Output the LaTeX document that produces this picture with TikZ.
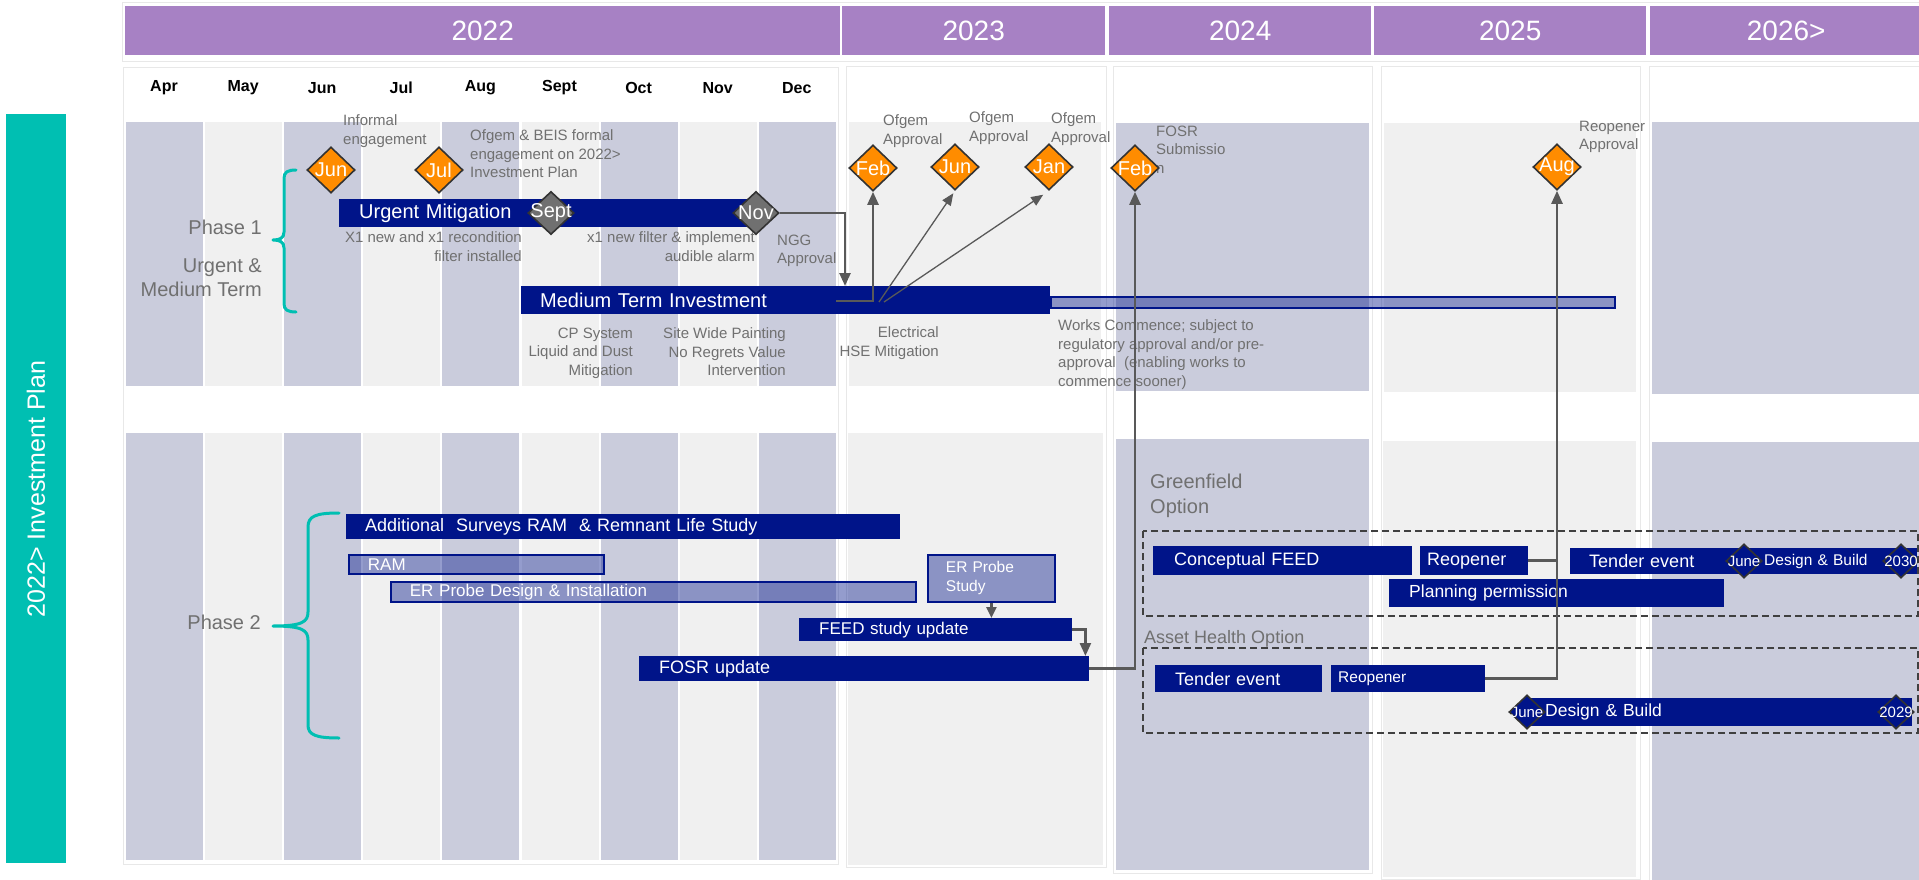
\documentclass[tikz,border=0pt]{standalone}
\usepackage{fontspec}
\setmainfont{Liberation Sans}
\usetikzlibrary{shapes.geometric,arrows.meta,calc}

\definecolor{yearpurple}{RGB}{167,129,196}
\definecolor{planteal}{RGB}{0,191,178}
\definecolor{stripedark}{RGB}{202,204,220}
\definecolor{stripelight}{RGB}{240,240,240}
\definecolor{barnavy}{RGB}{0,20,137}
\definecolor{msorange}{RGB}{255,140,0}
\definecolor{msgray}{RGB}{112,112,112}
\definecolor{conngray}{RGB}{89,89,89}
\definecolor{txtgray}{RGB}{112,112,112}

\tikzset{
  yearbox/.style={fill=yearpurple, text=white, anchor=north west, inner sep=0pt, font=\fontsize{28}{32}\selectfont},
  panel/.style={fill=white, draw=black!9, line width=1pt},
  monthlbl/.style={font=\fontsize{16}{18}\selectfont\bfseries},
  note/.style={text=txtgray, inner sep=0pt, font=\fontsize{15}{18.5}\selectfont},
  phaselbl/.style={text=txtgray, inner sep=0pt, font=\fontsize{20}{24}\selectfont},
  bar/.style={fill=barnavy, text=white, inner sep=0pt, anchor=north west, align=left, font=\fontsize{18}{20}\selectfont},
  lightbar/.style={bar, fill opacity=0.42, text opacity=1, draw=barnavy, line width=1.8pt},
  milestone/.style={diamond, draw=black!80, line width=1.6pt, inner sep=0pt, minimum width=48, minimum height=46,
    fill=msorange, text=white, font=\fontsize{20}{20}\selectfont},
  gatestone/.style={milestone, fill=msgray, minimum width=46, minimum height=43},
  datestone/.style={milestone, fill=barnavy, minimum width=36, minimum height=34, font=\fontsize{15}{15}\selectfont},
  conn/.style={draw=conngray, line width=2.5pt, -{Triangle[length=13pt,width=11pt]}},
  thinconn/.style={conn, line width=1.3pt, -{Triangle[length=12pt,width=10pt]}},
  phasebrace/.style={draw=planteal, line width=3pt, line join=round, line cap=round},
  optionbox/.style={draw=black!75, line width=2pt, dash pattern=on 7pt off 4pt},
}

\begin{document}
\begin{tikzpicture}[x=1pt, y=-1pt]
        \useasboundingbox (0,0) rectangle (1919,880);

        % side title
        \fill[planteal] (6,114) rectangle (66,863);
        \node[rotate=90, text=white, font=\fontsize{25}{28}\selectfont] (plantitle) at (36,489) {2022> Investment Plan};

        % year header
        \draw[panel] (122,3) rectangle (1925,62);
        \node[yearbox, minimum width=715, minimum height=49] (y2022) at (125,6) {2022};
        \node[yearbox, minimum width=263, minimum height=49] (y2023) at (842,6) {2023};
        \node[yearbox, minimum width=262, minimum height=49] (y2024) at (1109,6) {2024};
        \node[yearbox, minimum width=272, minimum height=49] (y2025) at (1374,6) {2025};
        \node[yearbox, minimum width=272, minimum height=49] (y2026) at (1650,6) {2026>};

        % year panels
        \draw[panel] (123,68) rectangle (838,864);
        \draw[panel] (846,67) rectangle (1106,867);
        \draw[panel] (1113,67) rectangle (1372,873);
        \draw[panel] (1381,67) rectangle (1640,879);
        \draw[panel] (1649,67) rectangle (1925,885);

        % month stripes (phase 1 and phase 2)
        \foreach \i/\col in {0/stripedark,1/stripelight,2/stripedark,3/stripelight,4/stripedark,
                             5/stripelight,6/stripedark,7/stripelight,8/stripedark} {
            \fill[\col] ({126+79.1*\i},122) rectangle +(77,264);
            \fill[\col] ({126+79.1*\i},433) rectangle +(77,427);
        }
        \foreach \m [count=\i from 0] in {Apr,May,Jun,Jul,Aug,Sept,Oct,Nov,Dec}
            \node[monthlbl] (month\i) at ({164+79.1*\i},88) {\m};

        % year stripes
        \fill[stripelight] (849,122) rectangle (1101,386);
        \fill[stripelight] (848,433) rectangle (1103,865);
        \fill[stripedark] (1116,123) rectangle (1369,391);
        \fill[stripedark] (1116,439) rectangle (1369,870);
        \fill[stripelight] (1384,123) rectangle (1636,392);
        \fill[stripelight] (1383,441) rectangle (1636,877);
        \fill[stripedark] (1652,122) rectangle (1919,394);
        \fill[stripedark] (1652,442) rectangle (1919,880);

        % phase braces and labels
        \draw[phasebrace] (296,170) .. controls (288,170) and (284,172) .. (284,178) -- (284,232)
            .. controls (284,238) and (280,240) .. (273,240) .. controls (280,240) and (284,242) .. (284,248)
            -- (284,304) .. controls (284,310) and (288,312) .. (296,312);
        \draw[phasebrace] (339,513) .. controls (316,513) and (308,516) .. (308,527) -- (308,612)
            .. controls (308,622) and (302,626) .. (273,626) .. controls (302,626) and (308,630) .. (308,640)
            -- (308,725) .. controls (308,735) and (316,738) .. (339,738);
        \node[phaselbl, anchor=north east, align=right] (phase1) at (262,219.5) {Phase 1\\[14pt]Urgent \&\\Medium Term};
        \node[phaselbl, anchor=north east] (phase2) at (261,614.5) {Phase 2};
        \node[phaselbl, anchor=north west, align=left, font=\fontsize{20}{25}\selectfont] (greenlbl) at (1150,473.5) {Greenfield\\Option};
        \node[phaselbl, anchor=north west, font=\fontsize{18}{20}\selectfont] (assetlbl) at (1144,630.5) {Asset Health Option};

        % notes
        \node[note, anchor=north west, align=left] (informal) at (343,114.5) {Informal\\engagement};
        \node[note, anchor=north west, align=left] (beis) at (470,129.5) {Ofgem \& BEIS formal\\engagement on 2022>\\Investment Plan};
        \node[note, anchor=north east, align=right] (filters) at (522,231.5) {X1 new and x1 recondition\\filter installed};
        \node[note, anchor=north east, align=right] (alarm) at (755,231.5) {x1 new filter \& implement\\audible alarm};
        \node[note, anchor=north west, align=left] (ngg) at (777,234.5) {NGG\\Approval};
        \node[note, anchor=north east, align=right] (cpsys) at (633,327.5) {CP System\\Liquid and Dust\\Mitigation};
        \node[note, anchor=north east, align=right] (painting) at (786,327.5) {Site Wide Painting\\No Regrets Value\\Intervention};
        \node[note, anchor=north east, align=right] (electrical) at (939,326.5) {Electrical\\HSE Mitigation};
        \node[note, anchor=north west, align=left] (works) at (1058,319.5) {Works Commence; subject to\\regulatory approval and/or pre-\\approval\ \ (enabling works to\\commence sooner)};
        \node[note, anchor=north west, align=left] (ofgem1) at (883,114.5) {Ofgem\\Approval};
        \node[note, anchor=north west, align=left] (ofgem2) at (969,111.5) {Ofgem\\Approval};
        \node[note, anchor=north west, align=left] (ofgem3) at (1051,112.5) {Ofgem\\Approval};
        \node[note, anchor=north west, align=left] (fosrsub) at (1156,125.5) {FOSR\\Submissio\\n};
        \node[note, anchor=north west, align=left] (reopappr) at (1579,120.5) {Reopener\\Approval};

        % option boxes
        \draw[optionbox] (1143,531) rectangle (1918,616);
        \draw[optionbox] (1143,648) rectangle (1918,733);

        % phase 1 bars
        \node[bar, minimum width=417, minimum height=28, text width=377, font=\fontsize{20}{22}\selectfont] (urgent) at (339,199) {Urgent Mitigation};
        \node[bar, minimum width=529, minimum height=28, text width=491, font=\fontsize{20}{22}\selectfont] (medium) at (521,286) {Medium Term Investment};
        \node[lightbar, minimum width=564, minimum height=11] (mediumext) at (1050,296) {};

        % phase 2 bars
        \node[bar, minimum width=554, minimum height=25, text width=516] (surveys) at (346,514) {Additional\ \ Surveys RAM\ \ \& Remnant Life Study};
        \node[lightbar, minimum width=255, minimum height=19, text width=217, font=\fontsize{17}{19}\selectfont] (ram) at (348,554) {RAM};
        \node[lightbar, minimum width=525, minimum height=20, text width=487, font=\fontsize{17}{19}\selectfont] (erdesign) at (390,581) {ER Probe Design \& Installation};
        \node[lightbar, minimum width=127, minimum height=47, text width=91, font=\fontsize{15.5}{19}\selectfont] (erstudy) at (927,554) {ER Probe\\Study};
        \node[bar, minimum width=273, minimum height=23, text width=233, font=\fontsize{17}{19}\selectfont] (feed) at (799,618) {FEED study update};
        \node[bar, minimum width=450, minimum height=25, text width=410] (fosr) at (639,656) {FOSR update};

        % greenfield option
        \node[bar, minimum width=259, minimum height=29, text width=217] (cfeed) at (1153,546) {Conceptual FEED};
        \node[bar, minimum width=108, minimum height=29, text width=94] (reopgf) at (1420,546) {Reopener};
        \node[bar, minimum width=154, minimum height=26, text width=116] (tendergf) at (1570,548) {Tender event};
        \node[bar, minimum width=193, minimum height=26, text width=113, font=\fontsize{15.5}{17}\selectfont] (buildgf) at (1724,548) {Design \& Build};
        \node[bar, minimum width=335, minimum height=28, text width=295, font=\fontsize{17.5}{19}\selectfont] (planning) at (1389,579) {Planning permission};

        % asset health option
        \node[bar, minimum width=167, minimum height=27, text width=127] (tenderah) at (1155,665) {Tender event};
        \node[bar, minimum width=154, minimum height=27, text width=140, font=\fontsize{15.5}{17}\selectfont] (reopah) at (1331,665) {Reopener};
        \node[bar, minimum width=385, minimum height=28, text width=349, font=\fontsize{17.5}{19}\selectfont] (buildah) at (1527,698) {Design \& Build};

        % date diamonds on design & build
        \node[datestone] (junegf) at (1744,561) {\makebox[0pt]{June}};
        \node[datestone] (endgf) at (1901,561) {\makebox[0pt]{2030}};
        \node[datestone] (juneah) at (1527,712) {\makebox[0pt]{June}};
        \node[datestone] (endah) at (1896,712) {\makebox[0pt]{2029}};

        % milestones
        \node[milestone] (jun1) at (331,170) {\makebox[0pt]{Jun}};
        \node[milestone] (jul1) at (439,170) {\makebox[0pt]{Jul}};
        \node[gatestone] (sept1) at (551,213) {\makebox[0pt]{Sept}};
        \node[gatestone] (nov1) at (756,213) {\makebox[0pt]{Nov}};
        \node[milestone] (feb1) at (873,168) {\makebox[0pt]{Feb}};
        \node[milestone] (jun2) at (955,167) {\makebox[0pt]{Jun}};
        \node[milestone] (jan1) at (1049,167) {\makebox[0pt]{Jan}};
        \node[milestone] (feb2) at (1135,168) {\makebox[0pt]{Feb}};
        \node[milestone] (aug1) at (1557,167) {\makebox[0pt]{Aug}};

        % connectors
        \coordinate (nggin) at (845,286);
        \coordinate (mtia) at (836,301);
        \coordinate (mtib) at (879,302);
        \coordinate (mtic) at (884,302);
        \draw[conn] (nov1.east) -| (nggin);
        \draw[conn] (mtia) -| (feb1.south);
        \draw[thinconn, shorten >=3pt] (mtib) -- (jun2.south);
        \draw[thinconn, shorten >=7pt] (mtic) -- (jan1.south);
        \draw[conn, -{Triangle[length=11pt,width=10pt]}] (erstudy.south) -- (erstudy.south |- feed.north);
        \draw[conn] (feed.east) -| ($(fosr.north east)+(-4,0)$);
        \draw[conn] (fosr.east) -| (feb2.south);
        \draw[conn] (reopah.east) -| (aug1.south);
        \draw[conn, -] (reopgf.east) -- (reopgf.east -| aug1.south);

\end{tikzpicture}
\end{document}
